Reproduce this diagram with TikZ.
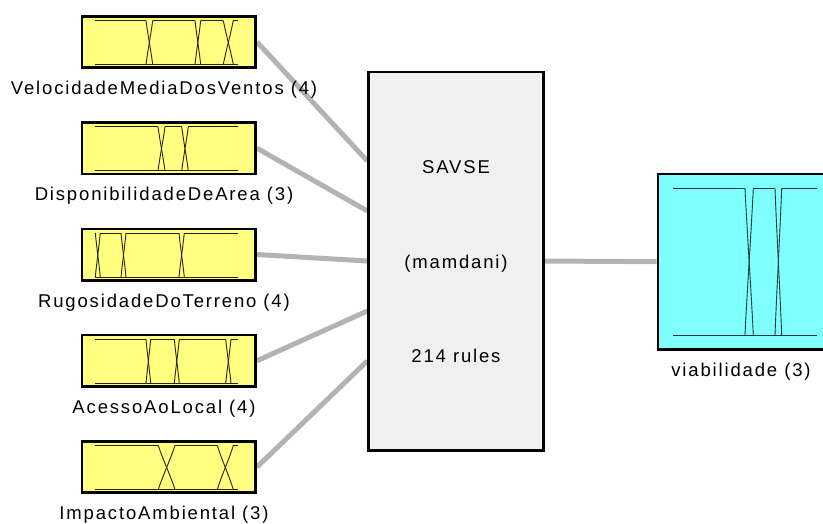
\documentclass[tikz,border=0pt]{standalone}
\usepackage{fontspec}
\setmainfont{Liberation Sans}[LetterSpace=10]
\usetikzlibrary{calc}
\pgfdeclarelayer{background}
\pgfsetlayers{background,main}

\definecolor{inyellow}{HTML}{FFFF80}
\definecolor{outcyan}{HTML}{80FFFF}
\definecolor{sysgray}{HTML}{F0F0F0}
\definecolor{linkgray}{HTML}{B3B3B3}
\definecolor{mfdark}{HTML}{262610}
\definecolor{mfteal}{HTML}{143838}

% Membership functions of one variable:
% [colour], left x, right x, top y, bottom y, transitions a/b
\newcommand\mfplot[6][mfdark]{%
  \draw[mfline,draw=#1] (#2,#5) -- (#3,#5);
  \xdef\mflast{#2}%
  \foreach \a/\b in {#6}{%
    \draw[mfline,draw=#1] (\mflast,#4) -- (\a,#4);
    \draw[mfline,draw=#1] (\a,#4)
      .. controls ({\a+0.25*(\b-\a)},{#4+0.3*(#5-#4)})
             and ({\b-0.25*(\b-\a)},{#5-0.3*(#5-#4)}) .. (\b,#5);
    \draw[mfline,draw=#1] (\a,#5)
      .. controls ({\a+0.25*(\b-\a)},{#5-0.3*(#5-#4)})
             and ({\b-0.25*(\b-\a)},{#4+0.3*(#5-#4)}) .. (\b,#4);
    \xdef\mflast{\b}%
  }%
  \draw[mfline,draw=#1] (\mflast,#4) -- (#3,#4);
}

\begin{document}
\begin{tikzpicture}[x=1pt,y=-1pt,
  font=\fontsize{18.5}{22}\selectfont,
  inbox/.style={draw=black, line width=2.7pt, fill=inyellow,
    minimum width=173.6pt, minimum height=51.3pt, inner sep=0pt},
  sysbox/.style={draw=black, line width=2.7pt, fill=sysgray,
    minimum width=175pt, minimum height=378.3pt, inner sep=0pt},
  outbox/.style={draw=black, line width=2.7pt, fill=outcyan,
    minimum width=170.6pt, minimum height=175.3pt, inner sep=0pt},
  mfline/.style={line width=0.9pt},
  link/.style={draw=linkgray, line width=5pt},
  lbl/.style={anchor=base, inner sep=0pt}]
\useasboundingbox (0,0) rectangle (823,523);

% input variables
\node[inbox] (v1) at (168.85,42) {};
\node[inbox] (v2) at (168.85,148.25) {};
\node[inbox] (v3) at (168.85,254.5) {};
\node[inbox] (v4) at (168.85,360.75) {};
\node[inbox] (v5) at (168.85,467) {};

\mfplot{95}{238}{20.5}{64.5}{146/152.7,195/200.7,223.3/233.3}
\mfplot{95}{238}{126.75}{170.75}{158/165,181.7/188.3}
\mfplot{95}{238}{233}{277}{95.3/100.3,121/126,179/184.3}
\mfplot{95}{238}{339.25}{383.25}{146/150.7,174.3/179.3,225.7/231}
\mfplot{95}{238}{445.5}{489.5}{158.3/175,217.3/233.3}

\node[lbl] (l1) at (164,94.5) {VelocidadeMediaDosVentos (4)};
\node[lbl] (l2) at (164,200.75) {DisponibilidadeDeArea (3)};
\node[lbl] (l3) at (164,307) {RugosidadeDoTerreno (4)};
\node[lbl] (l4) at (164,413.25) {AcessoAoLocal (4)};
\node[lbl] (l5) at (164,519.3) {ImpactoAmbiental (3)};

% inference system
\node[sysbox] (savse) at (456.15,261) {};
\node[lbl] (sname) at (456,173.3) {SAVSE};
\node[lbl] (stype) at (456,268.3) {(mamdani)};
\node[lbl] (srules) at (456,362.3) {214 rules};

% output variable
\node[outbox] (viab) at (743.35,261.7) {};
\mfplot[mfteal]{673.3}{816.7}{188.3}{335}{745/753.3,775/781.7}
\node[lbl] (lout) at (741,376.7) {viabilidade (3)};

% connections
\begin{pgfonlayer}{background}
\draw[link] (v1.east) -- ([yshift=100pt]savse.west);
\draw[link] (v2.east) -- ([yshift=50pt]savse.west);
\draw[link] (v3.east) -- (savse.west);
\draw[link] (v4.east) -- ([yshift=-50pt]savse.west);
\draw[link] (v5.east) -- ([yshift=-100pt]savse.west);
\draw[link] (savse.east) -- (viab.west);
\end{pgfonlayer}
\end{tikzpicture}
\end{document}
